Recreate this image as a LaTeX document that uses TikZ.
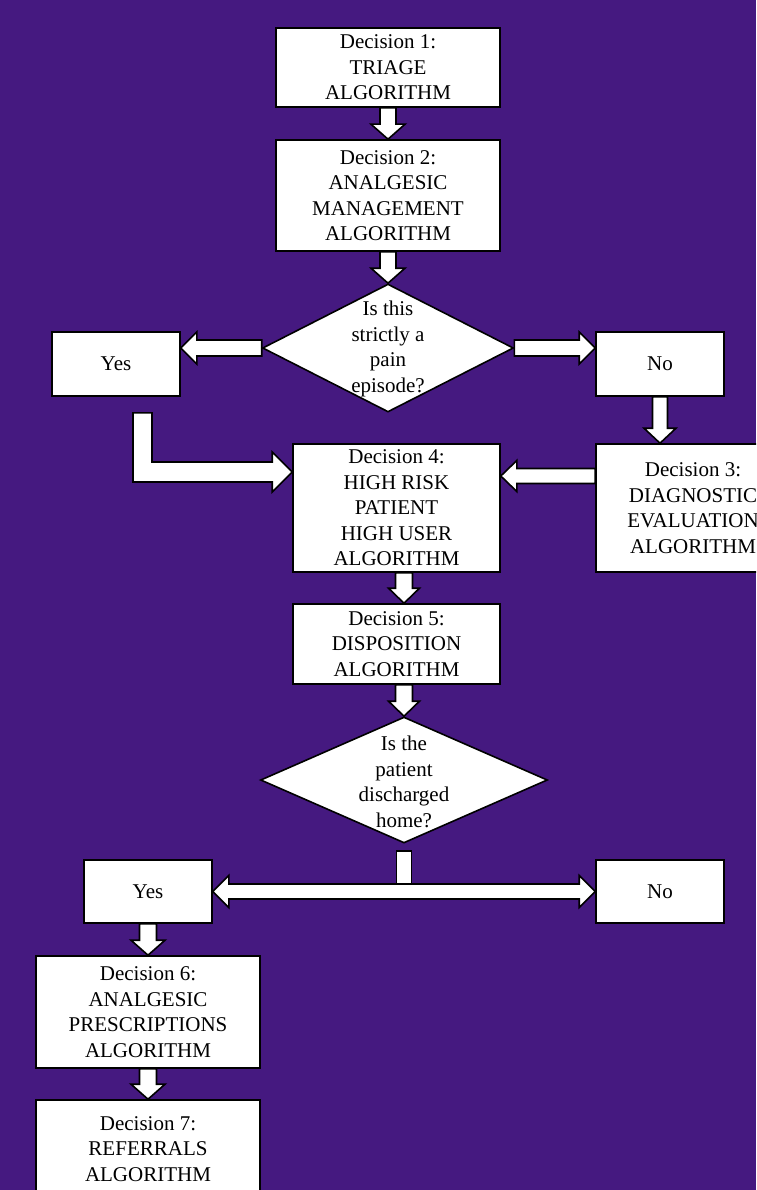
\documentclass[tikz,border=0pt]{standalone}
\usepackage{fontspec}
\setmainfont{Liberation Serif}
\usetikzlibrary{calc,shapes.geometric}
\definecolor{bgpurple}{RGB}{69,25,128}
% vertical block arrow pointing down: start, end, shaft half-width, head half-width
\newcommand\dnarrow[4]{\draw[blk] let \p1=(#1), \p2=(#2) in (\x1-#3pt,\y1) -- (\x1-#3pt,\y2+15pt) -- (\x1-#4pt,\y2+15pt) -- (\x1,\y2) -- (\x1+#4pt,\y2+15pt) -- (\x1+#3pt,\y2+15pt) -- (\x1+#3pt,\y1) -- cycle;}
% horizontal block arrow pointing left
\newcommand\ltarrow[4]{\draw[blk] let \p1=(#1), \p2=(#2) in (\x1,\y1-#3pt) -- (\x2+16pt,\y1-#3pt) -- (\x2+16pt,\y1-#4pt) -- (\x2,\y1) -- (\x2+16pt,\y1+#4pt) -- (\x2+16pt,\y1+#3pt) -- (\x1,\y1+#3pt) -- cycle;}
% horizontal block arrow pointing right
\newcommand\rtarrow[4]{\draw[blk] let \p1=(#1), \p2=(#2) in (\x1,\y1-#3pt) -- (\x2-16pt,\y1-#3pt) -- (\x2-16pt,\y1-#4pt) -- (\x2,\y1) -- (\x2-16pt,\y1+#4pt) -- (\x2-16pt,\y1+#3pt) -- (\x1,\y1+#3pt) -- cycle;}
\begin{document}
\begin{tikzpicture}[x=1pt,y=-1pt,
  box/.style={draw=black, fill=white, line width=1.6pt, inner sep=0pt, align=center,
    font=\fontsize{21}{25.5}\selectfont},
  txt/.style={inner sep=0pt, align=center, font=\fontsize{21}{25.5}\selectfont},
  blk/.style={draw=black, fill=white, line width=1.6pt, line join=miter},
  dia/.style={diamond, draw=black, fill=white, line width=1.6pt, inner sep=0pt}]
\useasboundingbox (0,0) rectangle (756,1190);
\clip (0,0) rectangle (756,1190);
\fill[bgpurple] (0,0) rectangle (756,1190);

% nodes
\node[box, minimum width=224, minimum height=79] (D1) at (388,67.5) {Decision 1:\\TRIAGE\\ALGORITHM};
\node[box, minimum width=224, minimum height=111] (D2) at (388,195.5) {Decision 2:\\ANALGESIC\\MANAGEMENT\\ALGORITHM};
\node[dia, minimum width=251, minimum height=128] (dia1) at (388,348) {};
\node[txt] (q1) at (388,349) {Is this\\strictly a\\pain\\episode?};
\node[box, minimum width=128, minimum height=64] (Yes) at (116,364) {Yes};
\node[box, minimum width=128, minimum height=64] (No) at (660,364) {No};
\node[box, minimum width=207, minimum height=128] (D4) at (396.5,508) {Decision 4:\\HIGH RISK\\PATIENT\\HIGH USER\\ALGORITHM};
\node[box, minimum width=194, minimum height=128] (D3) at (693,508) {Decision 3:\\DIAGNOSTIC\\EVALUATION\\ALGORITHM};
\node[box, minimum width=207, minimum height=80] (D5) at (396.5,644) {Decision 5:\\DISPOSITION\\ALGORITHM};
\node[dia, minimum width=287, minimum height=126] (dia2) at (404,780) {};
\node[txt] (q2) at (404,782) {Is the\\patient\\discharged\\home?};
\node[box, minimum width=128, minimum height=63] (Yes2) at (148,891.5) {Yes};
\node[box, minimum width=128, minimum height=63] (No2) at (660,891.5) {No};
\node[box, minimum width=224, minimum height=112] (D6) at (148,1012) {Decision 6:\\ANALGESIC\\PRESCRIPTIONS\\ALGORITHM};
\node[box, minimum width=224, minimum height=98] (D7) at (148,1149) {Decision 7:\\REFERRALS\\ALGORITHM};

% helper coordinates
\coordinate (d4s) at ($(D4.south)+(7.5,0)$);
\coordinate (d5n) at ($(D5.north)+(7.5,0)$);
\coordinate (d5s) at (D5.south -| dia2.north);
\coordinate (d3w) at ($(D3.west)+(0,-32)$);
\coordinate (yesb) at ($(Yes.south)+(26.5,16)$);
\coordinate (d4w) at ($(D4.west)+(0,-36)$);

% connectors
\dnarrow{D1.south}{D2.north}{8}{17}
\dnarrow{D2.south}{dia1.north}{8}{17}
\ltarrow{dia1.west}{Yes.east}{8}{16}
\rtarrow{dia1.east}{No.west}{8}{16}
\dnarrow{No.south}{No.south |- D3.north}{7.5}{16}
\ltarrow{d3w}{D4.east}{7.5}{15.5}
\draw[blk] let \p1=(yesb), \p2=(d4w) in
  (\x1-9.5pt,\y1) -- (\x1-9.5pt,\y2-10pt) -- (\x2-20pt,\y2-10pt) -- (\x2-20pt,\y2-20pt)
  -- (\x2,\y2) -- (\x2-20pt,\y2+20pt) -- (\x2-20pt,\y2+10pt) -- (\x1+9.5pt,\y2+10pt)
  -- (\x1+9.5pt,\y1) -- cycle;
\dnarrow{d4s}{d5n}{8.5}{15.5}
\dnarrow{d5s}{dia2.north}{8.5}{15.5}
\draw[blk] ($(dia2.south)+(-7.5,7)$) rectangle ($(dia2.south)+(7.5,42)$);
\draw[blk] let \p1=(Yes2.east), \p2=(No2.west) in
  (\x1,\y1) -- (\x1+16pt,\y1+16pt) -- (\x1+16pt,\y1+7.5pt) -- (\x2-16pt,\y1+7.5pt)
  -- (\x2-16pt,\y1+16pt) -- (\x2,\y1) -- (\x2-16pt,\y1-16pt) -- (\x2-16pt,\y1-7.5pt)
  -- (\x1+16pt,\y1-7.5pt) -- (\x1+16pt,\y1-16pt) -- cycle;
\dnarrow{Yes2.south}{Yes2.south |- D6.north}{8.5}{17}
\dnarrow{D6.south}{D7.north}{8.5}{17}
\end{tikzpicture}
\end{document}
